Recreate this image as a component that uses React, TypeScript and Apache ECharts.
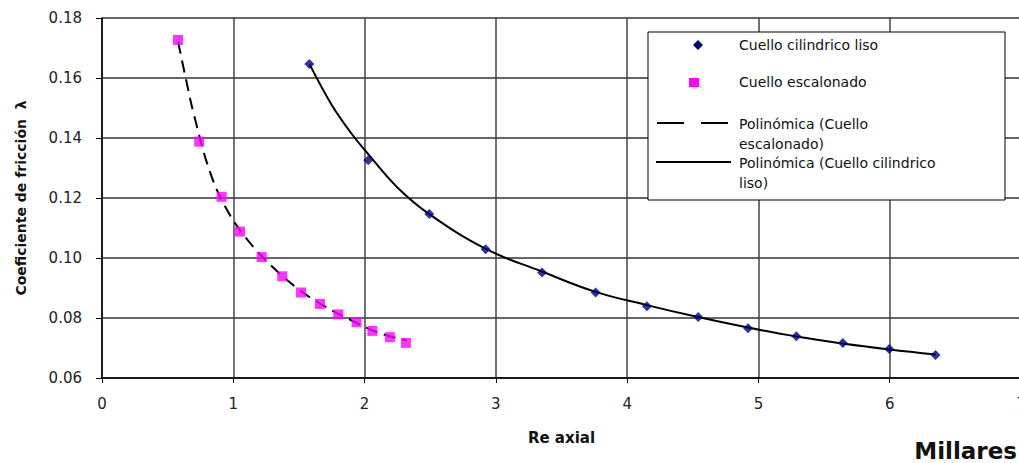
import React, { useEffect, useRef } from "react";
import * as echarts from "echarts";

// Measured points
const cilX = [1.579, 2.028, 2.493, 2.922, 3.352, 3.76, 4.151, 4.541, 4.921, 5.289, 5.643, 5.996, 6.349];
const cilY = [0.1647, 0.1326, 0.1147, 0.1029, 0.0952, 0.0885, 0.0839, 0.0803, 0.0766, 0.0739, 0.0717, 0.0697, 0.0677];

const escX = [0.579, 0.74, 0.911, 1.051, 1.216, 1.373, 1.516, 1.66, 1.8, 1.939, 2.059, 2.193, 2.315];
const escY = [0.1727, 0.1388, 0.1204, 0.1088, 0.1003, 0.0939, 0.0885, 0.0847, 0.0812, 0.0786, 0.0757, 0.0736, 0.0717];

// Trendlines
const trendEscX = [0.58, 0.64, 0.7, 0.82, 0.94, 1.1, 1.3, 1.5, 1.7, 1.9, 2.1, 2.32];
const trendEscY = [0.172, 0.1595, 0.1478, 0.129, 0.117, 0.1065, 0.097, 0.0895, 0.0838, 0.0792, 0.0752, 0.0725];

const trendCilX = [1.58, 1.75, 1.9, 2.03, 2.25, 2.49, 2.92, 3.35, 3.76, 4.15, 4.54, 4.92, 5.29, 5.64, 6.0, 6.35];
const trendCilY = [0.1647, 0.151, 0.1415, 0.1345, 0.1235, 0.1147, 0.1031, 0.0955, 0.0887, 0.0843, 0.0803, 0.0768, 0.0738, 0.0715, 0.0695, 0.0678];

const legendLabels = [
  "Cuello cilindrico liso",
  "Cuello escalonado",
  "Polinómica (Cuello\nescalonado)",
  "Polinómica (Cuello cilindrico\nliso)",
];

const yTitle = "Coeficiente de fricción  λ";
const xTitle = "Re axial";
const unitLabel = "Millares";

const zip = (xs: number[], ys: number[]) => xs.map((x, i) => [x, ys[i]]);

export default function App() {
  const ref = useRef<HTMLDivElement>(null);
  useEffect(() => {
    if (!ref.current) return;
    const chart = echarts.init(ref.current, null, { renderer: "svg" });
    const font = "DejaVu Sans";
    const legendFont = { fontFamily: font, fontSize: 14, fill: "#111" };
    chart.setOption({
      animation: false,
      backgroundColor: "#fff",
      grid: { left: 102, right: -2, top: 18, bottom: 85, outerBoundsMode: "none", containLabel: false },
      xAxis: {
        type: "value",
        min: 0,
        max: 7,
        interval: 1,
        name: xTitle,
        nameLocation: "middle",
        nameGap: 52,
        nameTextStyle: { fontFamily: font, fontWeight: "bold", fontSize: 15, color: "#111" },
        axisLine: { show: true, onZero: false, lineStyle: { color: "#000", width: 1.5 } },
        axisTick: { show: true, length: 5, lineStyle: { color: "#000" } },
        axisLabel: { margin: 18, fontFamily: font, fontSize: 15, color: "#222" },
        splitLine: { show: true, lineStyle: { color: "#444", width: 1.5 } },
      },
      yAxis: {
        type: "value",
        min: 0.06,
        max: 0.18,
        interval: 0.02,
        name: yTitle,
        nameLocation: "middle",
        nameGap: 74,
        nameRotate: 90,
        nameTextStyle: { fontFamily: font, fontWeight: "bold", fontSize: 14, color: "#111" },
        axisLine: { show: true, onZero: false, lineStyle: { color: "#000", width: 1.5 } },
        axisTick: { show: true, length: 6, lineStyle: { color: "#000" } },
        axisLabel: {
          margin: 20,
          fontFamily: font,
          fontSize: 15,
          color: "#222",
          formatter: (v: number) => v.toFixed(2),
        },
        splitLine: { show: true, lineStyle: { color: "#333", width: 1.5 } },
      },
      series: [
        {
          name: legendLabels[3],
          type: "line",
          data: zip(trendCilX, trendCilY),
          smooth: 0.4,
          symbol: "none",
          lineStyle: { color: "#000", width: 2 },
          z: 3,
        },
        {
          name: legendLabels[2],
          type: "line",
          data: zip(trendEscX, trendEscY),
          smooth: 0.4,
          symbol: "none",
          lineStyle: { color: "#000", width: 2, type: [12, 7] },
          z: 3,
        },
        {
          name: legendLabels[0],
          type: "scatter",
          data: zip(cilX, cilY),
          symbol: "diamond",
          symbolSize: 10,
          itemStyle: { color: "#000080" },
          z: 4,
        },
        {
          name: legendLabels[1],
          type: "scatter",
          data: zip(escX, escY),
          symbol: "rect",
          symbolSize: 10,
          itemStyle: { color: "#FF00FF" },
          z: 4,
        },
      ],
      graphic: [
        {
          type: "rect",
          shape: { x: 648, y: 32, width: 357, height: 168 },
          style: { fill: "#fff", stroke: "#000", lineWidth: 1 },
          z: 10,
        },
        {
          type: "polygon",
          shape: { points: [[698, 40], [703, 45], [698, 50], [693, 45]] },
          style: { fill: "#000080" },
          z: 11,
        },
        {
          type: "rect",
          shape: { x: 689, y: 78, width: 10, height: 9 },
          style: { fill: "#FF00FF" },
          z: 11,
        },
        {
          type: "line",
          shape: { x1: 657, y1: 123, x2: 731, y2: 123 },
          style: { stroke: "#000", lineWidth: 2, lineDash: [27, 17] },
          z: 11,
        },
        {
          type: "line",
          shape: { x1: 656, y1: 162, x2: 731, y2: 162 },
          style: { stroke: "#000", lineWidth: 2 },
          z: 11,
        },
        { type: "text", x: 739, y: 45, style: { ...legendFont, text: legendLabels[0], verticalAlign: "middle" }, z: 11 },
        { type: "text", x: 739, y: 82, style: { ...legendFont, text: legendLabels[1], verticalAlign: "middle" }, z: 11 },
        { type: "text", x: 739, y: 114, style: { ...legendFont, text: legendLabels[2], lineHeight: 20, verticalAlign: "top" }, z: 11 },
        { type: "text", x: 739, y: 153, style: { ...legendFont, text: legendLabels[3], lineHeight: 20, verticalAlign: "top" }, z: 11 },
        {
          type: "text",
          x: 1017,
          y: 451,
          style: {
            text: unitLabel,
            fontFamily: font,
            fontWeight: "bold",
            fontSize: 23,
            fill: "#111",
            align: "right",
            verticalAlign: "middle",
          },
          z: 11,
        },
      ],
    });
    return () => chart.dispose();
  }, []);
  return (
    <div
      ref={ref}
      style={{ position: "fixed", left: 0, top: 0, width: 1019, height: 463 }}
    />
  );
}
